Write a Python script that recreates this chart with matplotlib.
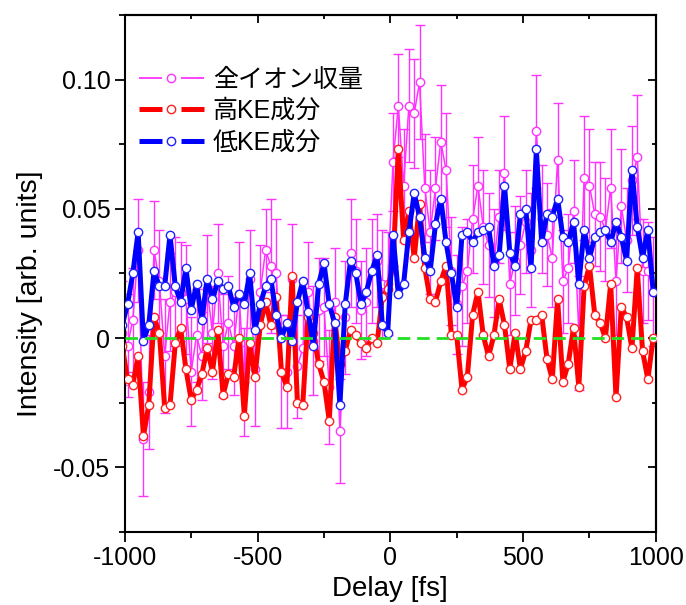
import numpy as np
import matplotlib
matplotlib.use('Agg')
import matplotlib.pyplot as plt
from matplotlib.ticker import MultipleLocator, FuncFormatter
from matplotlib.lines import Line2D
from matplotlib.legend_handler import HandlerBase

plt.rcParams['font.family'] = ['Liberation Sans', 'Noto Sans CJK JP']

# delay scan points [fs]
delay = np.arange(-1010, 1000, 20)

# 低KE成分
low_ke = [0.005,
          0.013, 0.025, 0.041, -0.001, 0.005, 0.026, 0.020, 0.020, 0.040, 0.020,
          0.014, 0.027, 0.011, 0.021, 0.007, 0.023, 0.015, 0.022, 0.019, 0.020,
          0.012, 0.017, 0.013, 0.025, 0.003, 0.013, 0.020, 0.023, 0.009, 0.000,
          0.006, -0.001, 0.014, 0.022, 0.010, -0.003, 0.021, 0.029, 0.013, 0.006,
          -0.026, 0.013, 0.030, 0.025, 0.013, 0.018, 0.026, 0.032, 0.005, 0.002,
          0.040, 0.017, 0.021, 0.041, 0.056, 0.047, 0.031, 0.026, 0.044, 0.054,
          0.037, 0.025, 0.012, 0.040, 0.041, 0.037, 0.041, 0.042, 0.043, 0.028,
          0.032, 0.059, 0.033, 0.028, 0.048, 0.050, 0.027, 0.073, 0.037, 0.048,
          0.047, 0.054, 0.039, 0.037, 0.045, 0.021, 0.042, 0.031, 0.039, 0.041,
          0.042, 0.037, 0.045, 0.039, 0.030, 0.065, 0.043, 0.031, 0.042, 0.018]

# 高KE成分
high_ke = [-0.003,
           -0.016, -0.018, -0.007, -0.038, -0.026, 0.008, 0.002, -0.027, -0.026, -0.002,
           0.004, -0.012, -0.024, -0.020, -0.014, -0.004, -0.013, 0.003, -0.022, -0.014,
           -0.015, 0.000, -0.030, -0.002, -0.015, 0.005, 0.014, 0.005, 0.016, -0.013,
           -0.019, 0.024, -0.025, -0.026, 0.008, 0.002, -0.010, -0.017, -0.032, 0.008,
           -0.010, -0.005, 0.003, 0.001, -0.002, -0.004, 0.000, -0.002, 0.016, 0.019,
           0.028, 0.073, 0.038, 0.049, 0.031, 0.052, 0.027, 0.015, 0.014, 0.022,
           0.028, 0.001, 0.001, -0.020, -0.015, 0.009, 0.018, 0.001, -0.007, 0.001,
           0.015, 0.005, -0.012, 0.002, -0.012, -0.005, 0.007, 0.007, 0.009, -0.008,
           -0.016, 0.015, -0.017, -0.010, 0.004, -0.019, 0.020, 0.028, 0.009, 0.006,
           0.000, 0.021, -0.023, 0.012, 0.008, -0.004, 0.027, -0.005, -0.016, 0.000]

# 全イオン収量
total = [0.002,
         -0.003, 0.007, 0.034, -0.039, -0.021, 0.034, 0.022, -0.007, 0.014, 0.018,
         0.018, 0.015, -0.013, 0.001, -0.007, 0.019, 0.002, 0.025, -0.003, 0.006,
         -0.003, 0.017, -0.017, 0.023, -0.012, 0.018, 0.034, 0.028, 0.025, -0.013,
         -0.013, 0.023, -0.011, -0.004, 0.018, -0.001, 0.011, 0.012, -0.019, 0.014,
         -0.036, 0.008, 0.033, 0.026, 0.011, 0.014, 0.026, 0.030, 0.021, 0.021,
         0.068, 0.090, 0.059, 0.090, 0.087, 0.099, 0.058, 0.041, 0.058, 0.076,
         0.065, 0.026, 0.013, 0.020, 0.026, 0.046, 0.059, 0.043, 0.036, 0.029,
         0.047, 0.064, 0.021, 0.030, 0.036, 0.045, 0.034, 0.080, 0.046, 0.040,
         0.031, 0.069, 0.022, 0.027, 0.049, 0.002, 0.062, 0.059, 0.048, 0.047,
         0.042, 0.058, 0.022, 0.051, 0.038, 0.061, 0.070, 0.026, 0.026, 0.018]

total_err = [0.020,
             0.020, 0.020, 0.020, 0.022, 0.022, 0.019, 0.020, 0.022, 0.019, 0.021,
             0.019, 0.021, 0.021, 0.018, 0.017, 0.021, 0.018, 0.019, 0.020, 0.018,
             0.019, 0.020, 0.021, 0.019, 0.022, 0.018, 0.016, 0.026, 0.021, 0.022,
             0.022, 0.021, 0.020, 0.022, 0.019, 0.021, 0.020, 0.019, 0.022, 0.021,
             0.020, 0.022, 0.021, 0.020, 0.019, 0.021, 0.020, 0.018, 0.021, 0.020,
             0.019, 0.020, 0.022, 0.022, 0.021, 0.022, 0.021, 0.024, 0.020, 0.022,
             0.022, 0.021, 0.019, 0.023, 0.020, 0.021, 0.019, 0.022, 0.020, 0.021,
             0.018, 0.022, 0.020, 0.021, 0.019, 0.020, 0.022, 0.022, 0.021, 0.020,
             0.019, 0.022, 0.020, 0.021, 0.020, 0.022, 0.024, 0.022, 0.020, 0.021,
             0.020, 0.023, 0.021, 0.022, 0.020, 0.021, 0.024, 0.020, 0.019, 0.021]

labels = ['全イオン収量', '高KE成分', '低KE成分']


class GapHandler(HandlerBase):
    # line - marker - line, with gaps around the marker (Origin style)
    def create_artists(self, legend, orig_handle, xdescent, ydescent,
                       width, height, fontsize, trans):
        y = height / 2.0 - ydescent
        x0 = -xdescent
        x1 = x0 + width
        xm = (x0 + x1) / 2.0
        gap = width * 0.15
        kw = dict(color=orig_handle.get_color(), lw=orig_handle.get_linewidth(),
                  transform=trans, solid_capstyle='butt')
        l1 = Line2D([x0, xm - gap], [y, y], **kw)
        l2 = Line2D([xm + gap, x1], [y, y], **kw)
        m = Line2D([xm], [y], ls='none', marker='o', ms=orig_handle.get_markersize(),
                   mfc='white', mec=orig_handle.get_markeredgecolor(),
                   mew=orig_handle.get_markeredgewidth(), transform=trans)
        return [l1, l2, m]


fig = plt.figure(figsize=(6.86, 6.05), dpi=100)
ax = fig.add_axes([0.182, 0.121, 0.774, 0.854])

ax.errorbar(delay, total, yerr=total_err, color='#ff33ff', lw=1.1, elinewidth=1.0,
            capsize=3.5, capthick=1.0, marker='o', ms=6, mfc='white', mec='#ff33ff',
            mew=1.0, zorder=2)
ax.plot(delay, high_ke, color='#ff0000', lw=3.6, marker='o', ms=6, mfc='white',
        mec='#ff2020', mew=1.0, zorder=3)
ax.plot(delay, low_ke, color='#0000ff', lw=3.6, marker='o', ms=6, mfc='white',
        mec='#2020ff', mew=1.0, zorder=4)
ax.axhline(0, color='#22e022', lw=2.0, ls=(0, (4.5, 2.5)), zorder=5)

handles = [Line2D([], [], color='#ff33ff', lw=1.3, marker='o', ms=6, mec='#ff33ff', mew=1.0),
           Line2D([], [], color='#ff0000', lw=3.6, marker='o', ms=6, mec='#ff2020', mew=1.0),
           Line2D([], [], color='#0000ff', lw=3.6, marker='o', ms=6, mec='#2020ff', mew=1.0)]

ax.set_xlim(-1000, 1000)
ax.set_ylim(-0.075, 0.125)

ax.xaxis.set_major_locator(MultipleLocator(500))
ax.xaxis.set_minor_locator(MultipleLocator(250))
ax.yaxis.set_major_locator(MultipleLocator(0.05))
ax.yaxis.set_minor_locator(MultipleLocator(0.025))
ax.xaxis.set_major_formatter(FuncFormatter(lambda v, p: '%d' % v))
ax.yaxis.set_major_formatter(FuncFormatter(lambda v, p: '0' if abs(v) < 1e-9 else '%.2f' % v))

ax.tick_params(which='both', direction='out', labelsize=18, width=1.3, top=False, right=False)
ax.tick_params(which='major', length=7)
ax.tick_params(which='minor', length=4)

top = ax.secondary_xaxis('top')
top.xaxis.set_major_locator(MultipleLocator(500))
top.xaxis.set_minor_locator(MultipleLocator(250))
top.tick_params(which='both', direction='in', labeltop=False, width=1.3)
top.tick_params(which='major', length=6)
top.tick_params(which='minor', length=3)
right = ax.secondary_yaxis('right')
right.yaxis.set_major_locator(MultipleLocator(0.05))
right.yaxis.set_minor_locator(MultipleLocator(0.025))
right.tick_params(which='both', direction='in', labelright=False, width=1.3)
right.tick_params(which='major', length=6)
right.tick_params(which='minor', length=3)

for s in ax.spines.values():
    s.set_linewidth(1.5)
top.spines['top'].set_linewidth(1.5)
right.spines['right'].set_linewidth(1.5)

ax.set_xlabel('Delay [fs]', fontsize=20, labelpad=4)
ax.set_ylabel('Intensity [arb. units]', fontsize=20.5)
ax.yaxis.set_label_coords(-0.155, 0.46)

ax.legend(handles, labels, handler_map={Line2D: GapHandler()}, loc='upper left',
          bbox_to_anchor=(-0.016, 0.942), frameon=False, fontsize=18,
          handlelength=2.6, handletextpad=0.35, labelspacing=0.3, borderaxespad=0.5)

fig.savefig('out.png', dpi=100)
